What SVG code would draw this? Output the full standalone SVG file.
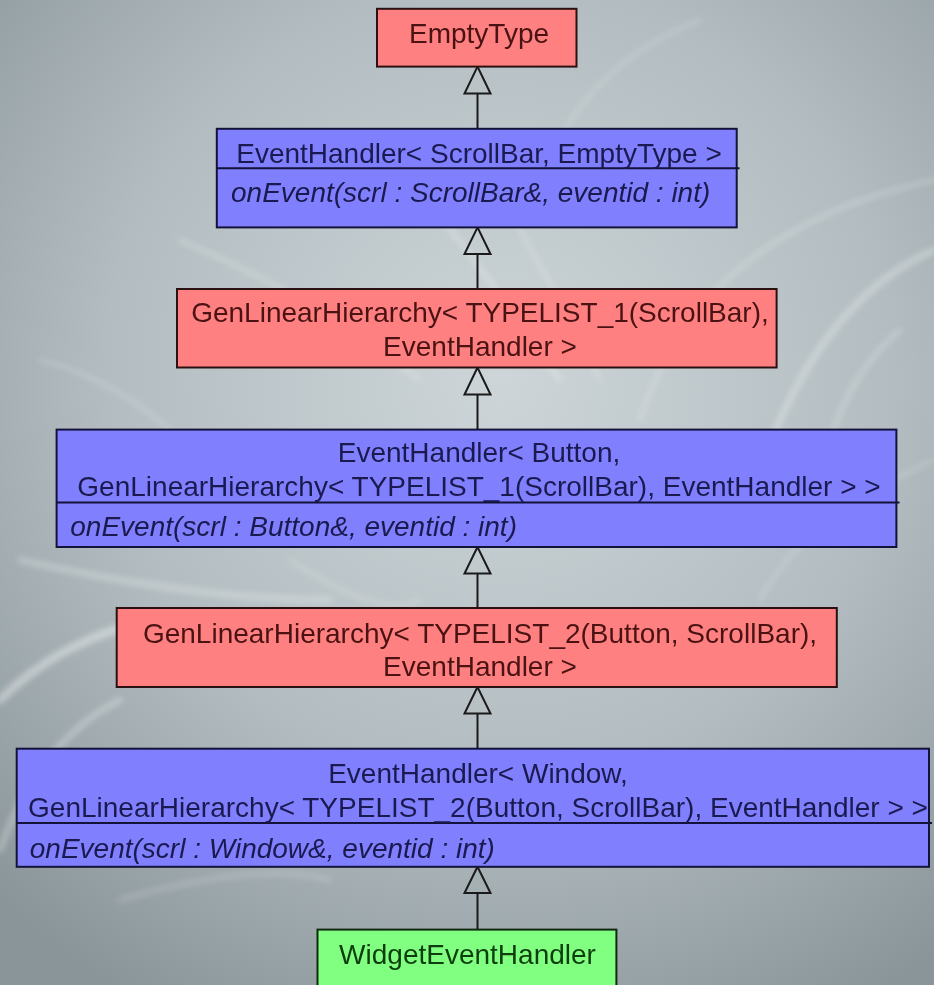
<svg xmlns="http://www.w3.org/2000/svg" width="934" height="985" viewBox="0 0 934 985">
<defs>
<radialGradient id="bg" cx="500" cy="380" r="720" gradientUnits="userSpaceOnUse">
<stop offset="0" stop-color="#cdd5d8"/>
<stop offset="0.55" stop-color="#b3bdc1"/>
<stop offset="1" stop-color="#8a959a"/>
</radialGradient>
<filter id="blur" x="-20%" y="-20%" width="140%" height="140%"><feGaussianBlur stdDeviation="3"/></filter>
<style>
.t{font-family:"Liberation Sans",Arial,sans-serif;font-size:28px}
.c{text-anchor:middle}
.i{font-style:italic}
.red rect{fill:#ff8080;stroke:#2a1010;stroke-width:2}
.red text{fill:#4a1212}
.blue rect{fill:#8080ff;stroke:#12123a;stroke-width:2}
.blue line{stroke:#12123a;stroke-width:2}
.blue text{fill:#1a1a50}
.green rect{fill:#80ff80;stroke:#102a10;stroke-width:2}
.green text{fill:#0e3e0e}
.conn path{fill:none;stroke:#1a1a1a;stroke-width:2}
.sw{fill:none;stroke:#ffffff;stroke-linecap:round;filter:url(#blur)}
</style>
</defs>
<rect x="0" y="0" width="934" height="985" fill="url(#bg)"/>
<g id="background-swirls" opacity="0.55">
<path class="sw" d="M934 250 Q820 300 760 470" stroke-width="6" stroke-opacity="0.6"/>
<path class="sw" d="M900 330 Q840 380 820 480" stroke-width="4" stroke-opacity="0.5"/>
<path class="sw" d="M934 180 Q700 230 640 420" stroke-width="4" stroke-opacity="0.45"/>
<path class="sw" d="M560 380 Q470 250 380 140" stroke-width="5" stroke-opacity="0.5"/>
<path class="sw" d="M600 380 Q560 300 520 230" stroke-width="4" stroke-opacity="0.45"/>
<path class="sw" d="M420 380 Q320 300 180 240" stroke-width="5" stroke-opacity="0.4"/>
<path class="sw" d="M0 700 Q60 640 150 620" stroke-width="8" stroke-opacity="0.75"/>
<path class="sw" d="M0 850 Q40 740 120 700" stroke-width="6" stroke-opacity="0.55"/>
<path class="sw" d="M20 560 Q200 600 330 600" stroke-width="6" stroke-opacity="0.5"/>
<path class="sw" d="M290 560 Q380 620 420 600" stroke-width="4" stroke-opacity="0.4"/>
<path class="sw" d="M120 900 Q260 860 330 880" stroke-width="5" stroke-opacity="0.35"/>
<path class="sw" d="M560 140 Q600 60 700 20" stroke-width="4" stroke-opacity="0.35"/>
<path class="sw" d="M180 440 Q120 380 40 360" stroke-width="4" stroke-opacity="0.35"/>
<path class="sw" d="M760 600 Q800 520 934 460" stroke-width="4" stroke-opacity="0.35"/>
</g>
<g id="connectors" class="conn">
<path d="M477.5 66.6 L464.5 93.5 L490.5 93.5 Z M477.5 93.5 L477.5 128.8"/>
<path d="M477.5 227.4 L464.5 254 L490.5 254 Z M477.5 254 L477.5 289"/>
<path d="M477.5 367.5 L464.5 394.5 L490.5 394.5 Z M477.5 394.5 L477.5 429.6"/>
<path d="M477.5 547 L464.5 573.5 L490.5 573.5 Z M477.5 573.5 L477.5 608"/>
<path d="M477.5 687 L464.5 713.5 L490.5 713.5 Z M477.5 713.5 L477.5 748.7"/>
<path d="M477.5 866.8 L464.5 893 L490.5 893 Z M477.5 893 L477.5 929.6"/>
</g>
<g id="EmptyType" class="red">
<rect x="377" y="8.8" width="199.5" height="57.8"/>
<text class="t c" x="479" y="43">EmptyType</text>
</g>
<g id="EventHandler_ScrollBar" class="blue">
<rect x="216.8" y="128.8" width="519.9" height="98.6"/>
<line x1="216.8" y1="168.3" x2="739.5" y2="168.3"/>
<text class="t c" x="479" y="162.6">EventHandler&lt; ScrollBar, EmptyType &gt;</text>
<text class="t i" x="231" y="201.6">onEvent(scrl : ScrollBar&amp;, eventid : int)</text>
</g>
<g id="GenLinearHierarchy_1" class="red">
<rect x="177" y="289" width="599.6" height="78.5"/>
<text class="t c" x="480" y="322">GenLinearHierarchy&lt; TYPELIST_1(ScrollBar),</text>
<text class="t c" x="480" y="356">EventHandler &gt;</text>
</g>
<g id="EventHandler_Button" class="blue">
<rect x="56.6" y="429.6" width="839.8" height="117.4"/>
<line x1="56.6" y1="502.5" x2="899.5" y2="502.5"/>
<text class="t c" x="479" y="462">EventHandler&lt; Button,</text>
<text class="t c" x="479" y="495.6">GenLinearHierarchy&lt; TYPELIST_1(ScrollBar), EventHandler &gt; &gt;</text>
<text class="t i" x="70.3" y="536.4">onEvent(scrl : Button&amp;, eventid : int)</text>
</g>
<g id="GenLinearHierarchy_2" class="red">
<rect x="116.7" y="608" width="720.1" height="79"/>
<text class="t c" x="480" y="642.5">GenLinearHierarchy&lt; TYPELIST_2(Button, ScrollBar),</text>
<text class="t c" x="480" y="675.8">EventHandler &gt;</text>
</g>
<g id="EventHandler_Window" class="blue">
<rect x="16.7" y="748.7" width="912.3" height="118.1"/>
<line x1="16.7" y1="822.9" x2="932" y2="822.9"/>
<text class="t c" x="478" y="782.6">EventHandler&lt; Window,</text>
<text class="t c" x="478" y="817">GenLinearHierarchy&lt; TYPELIST_2(Button, ScrollBar), EventHandler &gt; &gt;</text>
<text class="t i" x="29.8" y="858">onEvent(scrl : Window&amp;, eventid : int)</text>
</g>
<g id="WidgetEventHandler" class="green">
<rect x="317.5" y="929.6" width="298.9" height="70"/>
<text class="t c" x="467.5" y="963.5">WidgetEventHandler</text>
</g>
</svg>
